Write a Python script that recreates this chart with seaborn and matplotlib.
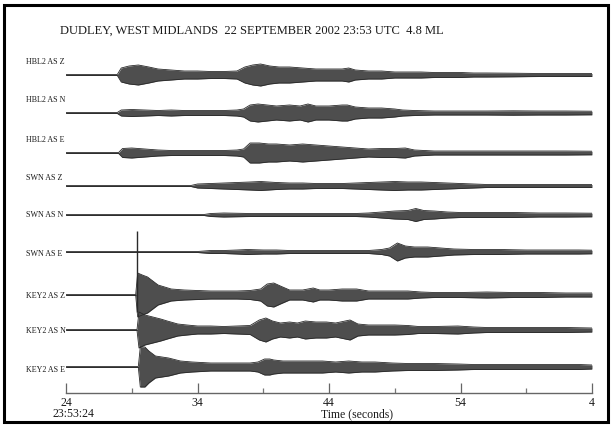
import numpy as np
import pandas as pd
import matplotlib.pyplot as plt
import seaborn as sns
from matplotlib.patches import Rectangle

# station / component, top to bottom
trace_names = ["HBL2 AS Z", "HBL2 AS N", "HBL2 AS E",
               "SWN AS Z", "SWN AS N", "SWN AS E",
               "KEY2 AS Z", "KEY2 AS N", "KEY2 AS E"]

# envelope: time (s) and half amplitude (px)
hbl2_z_t = [24, 27.9, 28.2, 28.8, 29.5, 30.3, 31, 32, 33, 34, 35, 36, 37, 37.6, 38.2, 38.8, 39.5, 40.2, 41, 42,
            43, 44, 45, 45.5, 46, 47, 48, 49, 50, 51, 52, 53, 54, 55, 56, 58, 60, 62, 64]
hbl2_z_a = [0.5, 0.5, 7, 9, 10, 8, 6, 5, 4, 4, 3.5, 3.5, 4, 8, 10, 11, 9, 8, 8, 7,
            6, 6, 6, 7, 5, 4, 4, 3, 3, 3, 2.5, 2.5, 2.5, 2, 2, 1.8, 1.5, 1.5, 1.5]

hbl2_n_t = [24, 27.9, 28.2, 29, 30, 31, 32, 33, 34, 35, 36, 37, 37.5, 38, 38.6, 39.3, 40, 41, 41.8, 42.4,
            43, 44, 45, 45.4, 46, 47, 48, 49, 49.6, 50.5, 52, 54, 56, 58, 60, 62, 64]
hbl2_n_a = [0.5, 0.5, 3, 3.5, 3, 2.5, 3, 2.5, 2.5, 2.5, 2.5, 3, 4, 8, 9, 8, 7, 8, 7, 9,
            7, 7, 8, 8, 6, 5, 5, 4, 3, 2.5, 2, 2, 2, 2.2, 2, 2, 1.8]

hbl2_e_t = [24, 28, 28.3, 29, 30, 31, 32, 33, 34, 35, 36, 37, 37.5, 38, 38.7, 39.4, 40, 41, 42, 43,
            44, 45, 46, 47, 48, 49, 49.8, 50.5, 52, 54, 56, 58, 60, 62, 64]
hbl2_e_a = [0.5, 0.5, 4.5, 5, 4, 3, 2.5, 2.5, 2.5, 2.5, 2.5, 3, 4, 10, 10, 9, 9, 8, 9, 8,
            7, 6, 5, 4, 4.5, 4.5, 5, 3, 2, 2, 2, 2, 2, 2, 1.8]

swn_z_t = [24, 33.5, 34, 35, 36, 37, 38, 38.8, 40, 41, 42, 43, 44, 45, 46, 47, 48, 49, 50, 51,
           52, 53, 54, 55, 56, 58, 60, 62, 64]
swn_z_a = [0.5, 0.5, 2, 2.5, 3, 3.5, 4, 4.5, 3.5, 3, 3, 2.5, 2.5, 2.5, 3, 3.5, 4, 4.5, 4, 4,
           3.5, 3, 2.5, 2, 1.5, 1.5, 1.5, 1.5, 1.5]

swn_n_t = [24, 34.5, 35, 36, 38, 40, 42, 44, 46, 47, 48, 49, 50, 50.6, 51.2, 52, 53, 54, 56, 58, 60, 62, 64]
swn_n_a = [0.5, 0.5, 1.5, 2, 1.5, 1.5, 1.5, 1.5, 1.5, 2, 3, 4, 4.5, 6.5, 4.5, 4, 3, 2.5, 2.5, 2.5, 2, 2, 1.8]

swn_e_t = [24, 34, 35, 36, 37, 37.8, 39, 40, 41, 42, 43, 44, 45, 46, 47, 48, 48.6, 49.2, 49.8, 50.5,
           51.5, 52.5, 53.5, 55, 57, 59, 61, 63, 64]
swn_e_a = [0.5, 0.5, 1.5, 1.5, 2, 2.5, 2, 2, 1.5, 1.5, 1.5, 1.5, 1.5, 1.5, 1.5, 2.5, 4, 9, 6, 5,
           5, 4, 3, 2.5, 2.5, 2, 2, 2, 1.8]

key2_z_t = [24, 29.3, 29.45, 29.8, 30.2, 30.6, 31.0, 31.5, 32, 33, 34, 35, 36, 37, 38, 38.8, 39.3, 39.8, 40.3, 41,
            42, 42.8, 43.3, 44, 45, 46.1, 47, 48, 49, 50, 51, 52, 54, 56, 58, 60, 62, 64]
key2_z_a = [0.5, 0.5, 22, 20, 18, 14, 10, 8, 6, 5, 4.5, 4, 4, 4, 4.5, 6, 11, 12, 9, 5,
            5, 7, 5, 5, 6, 6, 4, 4, 4, 4, 3, 2.5, 2.5, 3, 2.5, 2.5, 2, 2]

key2_n_t = [24, 29.4, 29.55, 30, 30.6, 31.2, 31.7, 32.5, 33.2, 34, 35, 36, 37, 38, 38.7, 39.2, 39.7, 40.3, 41, 41.6,
            42.2, 43, 43.8, 44.5, 45.6, 46.2, 47, 48, 49, 50, 50.8, 52, 53.8, 55, 56, 58, 60, 62, 64]
key2_n_a = [0.5, 0.5, 18, 15, 13, 11, 9, 6, 5, 4, 4, 3.5, 4, 4.5, 10, 12, 9, 7, 8, 7,
            9, 8, 8, 7, 10, 6, 5, 5, 5, 4.5, 3.5, 3.5, 4, 3, 2.5, 2.5, 2.5, 2.5, 2]

key2_e_t = [24, 29.5, 29.65, 30, 30.3, 30.8, 31.3, 31.8, 32.7, 33.6, 35, 36, 37, 38, 38.6, 39.1, 39.5, 39.8, 40.5, 41.5,
            42.5, 43.5, 44.5, 45.5, 46.5, 47.5, 48.8, 50, 51, 52, 53.8, 55, 57, 59, 61, 63, 64]
key2_e_a = [0.5, 0.5, 20, 20, 16, 11, 10, 9, 6, 5, 4, 4, 4, 4, 5, 8, 8, 7, 6, 6,
            6, 6, 5, 6, 5, 5, 4, 3.5, 3.5, 3.5, 3, 2.5, 2.5, 2.5, 2.5, 2.5, 2]

# big first arrival on KEY2 Z (px up / down from the trace)
key2_spike_t = 29.4
key2_spike_up = 64
key2_spike_down = 17

major_ticks = [24, 34, 44, 54, 64]
major_labels = ["24", "34", "44", "54", "4"]
minor_ticks = [29, 39, 49, 59]

# layout in image rows (425 px high)
trace_rows = [75, 113, 153, 186, 215, 252, 295, 330, 367]
label_rows = [62, 100, 140, 178, 215, 254, 296, 331, 370]

envelopes = [(hbl2_z_t, hbl2_z_a), (hbl2_n_t, hbl2_n_a), (hbl2_e_t, hbl2_e_a),
             (swn_z_t, swn_z_a), (swn_n_t, swn_n_a), (swn_e_t, swn_e_a),
             (key2_z_t, key2_z_a), (key2_n_t, key2_n_a), (key2_e_t, key2_e_a)]

frames = []
for name, (t, a), row in zip(trace_names, envelopes, trace_rows):
    a = np.array(a, dtype=float)
    frames.append(pd.DataFrame({"trace": name, "time": t, "upper": row - a, "lower": row + a}))
df = pd.concat(frames, ignore_index=True)

sns.set_theme(style="white")
plt.rcParams["font.family"] = ["Liberation Serif", "DejaVu Serif"]

W, H = 614, 425
fig = plt.figure(figsize=(W / 100, H / 100), dpi=100)
ax = fig.add_axes([66 / W, 0, 526 / W, 1])

trace_col = "#2a2a2a"
for name, g in df.groupby("trace", sort=False):
    ax.fill_between(g["time"], g["upper"], g["lower"], color="#4e4e4e", lw=0)
sns.lineplot(data=df, x="time", y="upper", units="trace", estimator=None,
             color=trace_col, lw=0.6, ax=ax, legend=False)
sns.lineplot(data=df, x="time", y="lower", units="trace", estimator=None,
             color=trace_col, lw=0.6, ax=ax, legend=False)

key2_row = trace_rows[trace_names.index("KEY2 AS Z")]
ax.vlines(key2_spike_t, key2_row - key2_spike_up, key2_row + key2_spike_down, color=trace_col, lw=1.0)

ax.set_xlim(24, 64)
ax.set_ylim(H, 0)
ax.set_xlabel("")
ax.set_ylabel("")
ax.set_yticks([])

for s in ["left", "top", "right"]:
    ax.spines[s].set_visible(False)
ax.spines["bottom"].set_position(("data", 393))
ax.spines["bottom"].set_color("#666666")
ax.spines["bottom"].set_linewidth(1.0)

ax.set_xticks(major_ticks)
ax.set_xticklabels(major_labels)
ax.set_xticks(minor_ticks, minor=True)
ax.tick_params(axis="x", which="major", direction="in", length=7, width=0.9, color="#666666",
               pad=3, labelsize=8.5, labelcolor="#1a1a1a", bottom=True)
ax.tick_params(axis="x", which="minor", direction="in", length=3.6, width=0.9, color="#777777", bottom=True)

# station labels
for name, row in zip(trace_names, label_rows):
    fig.text(26 / W, 1 - row / H, name, ha="left", va="center", fontsize=5.8, color="#1a1a1a")

fig.text(73 / W, 1 - 414 / H, "23:53:24", ha="center", va="center", fontsize=8.5, color="#1a1a1a")
fig.text(357 / W, 1 - 414 / H, "Time (seconds)", ha="center", va="center", fontsize=8.5, color="#1a1a1a")
fig.text(60 / W, 1 - 31 / H, "DUDLEY, WEST MIDLANDS  22 SEPTEMBER 2002 23:53 UTC  4.8 ML",
         ha="left", va="center", fontsize=9, color="#1a1a1a")

fig.patches.append(Rectangle((4 / W, 3 / H), 604 / W, 417 / H, transform=fig.transFigure,
                             fill=False, ec="black", lw=2.2))

fig.savefig("out.png", dpi=100)
